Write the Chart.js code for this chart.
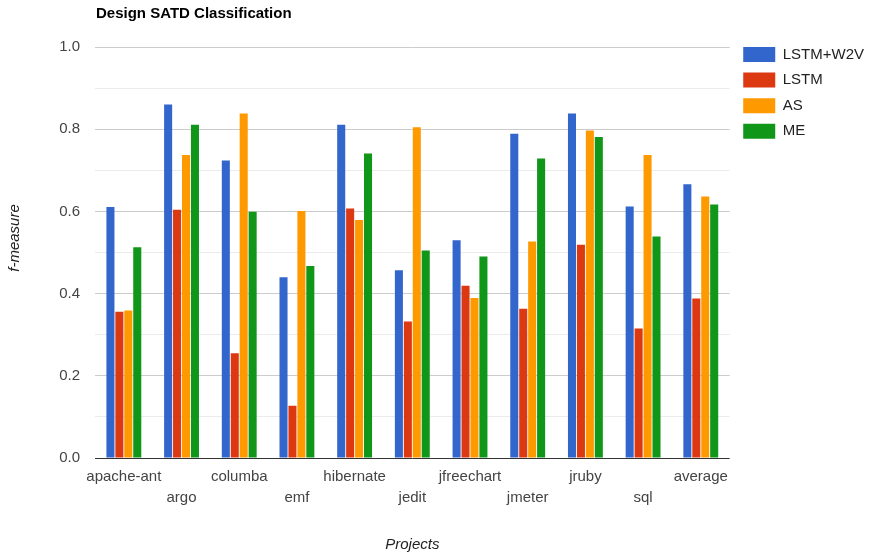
<!DOCTYPE html>
<html>
<head>
<meta charset="utf-8">
<title>Design SATD Classification</title>
<script src="https://cdn.jsdelivr.net/npm/chart.js@4.4.0/dist/chart.umd.min.js"></script>
<style>
  html, body { margin: 0; padding: 0; background: #fff; }
  #chart { display: block; }
</style>
</head>
<body>
<canvas id="chart" width="871" height="557"></canvas>
<script>
// projects on the x axis, last one is the mean over all projects
const projects = ['apache-ant', 'argo', 'columba', 'emf', 'hibernate', 'jedit',
  'jfreechart', 'jmeter', 'jruby', 'sql', 'average'];

// f-measure per approach
const lstmW2v = [0.611, 0.860, 0.724, 0.440, 0.811, 0.457, 0.530, 0.789, 0.838, 0.612, 0.666];
const lstm    = [0.356, 0.604, 0.255, 0.127, 0.607, 0.332, 0.419, 0.363, 0.519, 0.315, 0.388];
const as      = [0.359, 0.737, 0.838, 0.601, 0.579, 0.805, 0.389, 0.527, 0.797, 0.737, 0.636];
const me      = [0.513, 0.811, 0.599, 0.467, 0.741, 0.505, 0.490, 0.729, 0.781, 0.539, 0.617];

const seriesNames = ['LSTM+W2V', 'LSTM', 'AS', 'ME'];
const seriesColors = ['#3366cc', '#dc3912', '#ff9900', '#109618'];

const FONT = '"Liberation Sans", Arial, sans-serif';
const titleText = 'Design SATD Classification';
const yTitle = 'f-measure';
const xTitle = 'Projects';
const legendPad = 10.6;

// title above the plot and the y axis caption, both aligned like the old google chart
const captions = {
  id: 'captions',
  afterLayout(chart) {
    // legend rows start level with the top gridline
    const lg = chart.legend;
    lg.top = chart.chartArea.top - legendPad;
    lg.left += 3;
  },
  afterDraw(chart) {
    const ctx = chart.ctx;
    const area = chart.chartArea;
    ctx.save();
    ctx.fillStyle = '#000';
    ctx.font = 'bold 15px ' + FONT;
    ctx.textBaseline = 'middle';
    ctx.textAlign = 'left';
    ctx.fillText(titleText, area.left + 1, 14);

    ctx.fillStyle = '#222';
    ctx.font = 'italic 15px ' + FONT;
    ctx.translate(15, 238);
    ctx.rotate(-Math.PI / 2);
    ctx.textAlign = 'center';
    ctx.fillText(yTitle, 0, 0);
    ctx.restore();
  }
};

function gridColor(ctx) {
  const v = Math.round(ctx.tick.value * 10);
  if (v === 0) return '#333333';
  return v % 2 === 0 ? '#cccccc' : '#ebebeb';
}

const datasets = [lstmW2v, lstm, as, me].map((vals, i) => ({
  label: seriesNames[i],
  data: vals,
  backgroundColor: seriesColors[i],
  borderWidth: 0,
  categoryPercentage: 0.62,
  barPercentage: 0.9
}));

new Chart(document.getElementById('chart'), {
  type: 'bar',
  data: { labels: projects, datasets },
  plugins: [captions],
  options: {
    responsive: false,
    animation: false,
    layout: { padding: { top: 47, right: 0, bottom: 0, left: 0 } },
    plugins: {
      tooltip: { enabled: false },
      title: { display: false },
      legend: {
        position: 'right',
        align: 'start',
        labels: {
          boxWidth: 32,
          boxHeight: 15,
          padding: legendPad,
          color: '#222',
          font: { family: FONT, size: 15 }
        }
      }
    },
    scales: {
      x: {
        grid: { display: false, drawTicks: false },
        border: { display: false },
        ticks: {
          autoSkip: false,
          maxRotation: 0,
          padding: 9,
          color: '#444',
          font: { family: FONT, size: 15, lineHeight: 1.35 },
          // every other label goes on a second row
          callback(value, index) {
            const name = projects[index];
            return index % 2 === 1 ? ['', name] : name;
          }
        },
        title: {
          display: true,
          text: xTitle,
          color: '#222',
          font: { family: FONT, size: 15, style: 'italic' },
          padding: { top: 0, bottom: 3 }
        },
        afterFit(scale) { scale.height = 99; }
      },
      y: {
        min: 0,
        max: 1,
        grid: { color: gridColor, drawTicks: false },
        border: { display: false },
        ticks: {
          stepSize: 0.1,
          padding: 15,
          color: '#444',
          font: { family: FONT, size: 15 },
          callback(value) {
            return Math.round(value * 10) % 2 === 0 ? value.toFixed(1) : '';
          }
        },
        afterFit(scale) { scale.width = 95; }
      }
    }
  }
});
</script>
</body>
</html>
